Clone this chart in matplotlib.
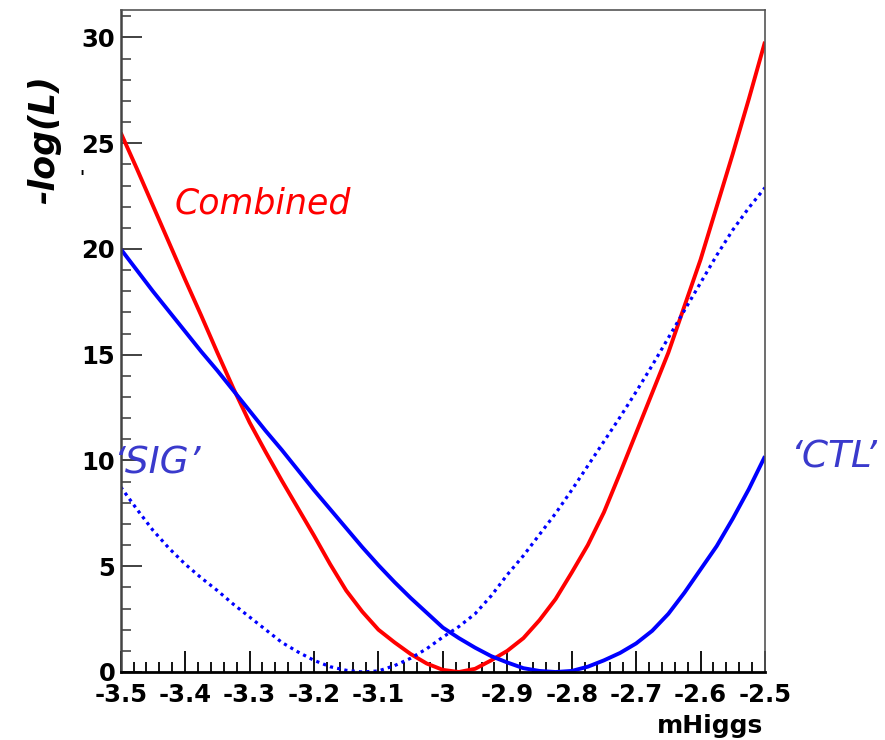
import matplotlib
matplotlib.use('Agg')
import matplotlib.pyplot as plt
from matplotlib.ticker import MultipleLocator

# mHiggs scan points
mhiggs = [-3.500, -3.475, -3.450, -3.425, -3.400, -3.375, -3.350, -3.325, -3.300, -3.275,
          -3.250, -3.225, -3.200, -3.175, -3.150, -3.125, -3.100, -3.075, -3.050, -3.025,
          -3.000, -2.975, -2.950, -2.925, -2.900, -2.875, -2.850, -2.825, -2.800, -2.775,
          -2.750, -2.725, -2.700, -2.675, -2.650, -2.625, -2.600, -2.575, -2.550, -2.525,
          -2.500]

# -log(L) curves
combined = [25.5, 23.8, 22.05, 20.3, 18.55, 16.85, 15.1, 13.4, 11.8, 10.4,
            9.05, 7.75, 6.45, 5.1, 3.85, 2.85, 2.0, 1.4, 0.85, 0.4,
            0.1, 0.0, 0.15, 0.55, 1.0, 1.6, 2.45, 3.45, 4.7, 6.0,
            7.55, 9.4, 11.3, 13.2, 15.1, 17.3, 19.5, 22.0, 24.5, 27.1,
            29.8]
ctl = [20.0, 19.0, 18.0, 17.05, 16.1, 15.15, 14.25, 13.3, 12.35, 11.4,
       10.5, 9.55, 8.6, 7.7, 6.8, 5.9, 5.05, 4.25, 3.5, 2.8,
       2.1, 1.6, 1.15, 0.75, 0.45, 0.18, 0.05, 0.0, 0.05, 0.25,
       0.55, 0.9, 1.35, 1.95, 2.75, 3.75, 4.85, 5.95, 7.25, 8.65,
       10.2]
sig = [8.75, 7.7, 6.7, 5.85, 5.1, 4.45, 3.85, 3.2, 2.6, 2.0,
       1.4, 0.95, 0.55, 0.25, 0.08, 0.0, 0.05, 0.3, 0.65, 1.1,
       1.65, 2.15, 2.75, 3.6, 4.6, 5.5, 6.5, 7.5, 8.6, 9.75,
       10.9, 12.05, 13.25, 14.5, 15.8, 17.1, 18.4, 19.7, 20.9, 21.95,
       22.9]

xticks = [-3.5, -3.4, -3.3, -3.2, -3.1, -3.0, -2.9, -2.8, -2.7, -2.6, -2.5]
xticklabels = ['-3.5', '-3.4', '-3.3', '-3.2', '-3.1', '-3', '-2.9', '-2.8',
               '-2.7', '-2.6', '-2.5']
yticks = [0, 5, 10, 15, 20, 25, 30]

fig = plt.figure(figsize=(8.85, 7.4), dpi=100)
ax = fig.add_axes([0.1364, 0.0919, 0.728, 0.8946])

ax.plot(mhiggs, combined, color='#ff0000', lw=2.8, solid_capstyle='butt')
ax.plot(mhiggs, ctl, color='#0000ff', lw=2.8, solid_capstyle='butt')
ax.plot(mhiggs, sig, color='#0000ff', lw=2.3, dashes=(1, 1.3), dash_capstyle='butt')

ax.set_xticks(xticks)
ax.set_xticklabels(xticklabels)
ax.set_yticks(yticks)
ax.xaxis.set_minor_locator(MultipleLocator(0.02))
ax.yaxis.set_minor_locator(MultipleLocator(1))
ax.set_xlim(-3.5, -2.5)
ax.set_ylim(0, 31.3)

ax.tick_params(axis='both', which='both', direction='in', top=False, right=False)
ax.tick_params(axis='x', which='major', length=15, width=1.3, color='black', pad=8)
ax.tick_params(axis='x', which='minor', length=7.5, width=1.3, color='black')
ax.tick_params(axis='y', which='major', length=15, width=1.3, color='#333333', pad=4)
ax.tick_params(axis='y', which='minor', length=7.5, width=1.3, color='#555555')

for lab in ax.get_xticklabels() + ax.get_yticklabels():
    lab.set_fontfamily('DejaVu Sans')
    lab.set_fontweight('bold')
    lab.set_fontsize(17.5)

ax.spines['bottom'].set_linewidth(2.0)
ax.spines['bottom'].set_color('black')
ax.spines['left'].set_linewidth(1.8)
ax.spines['left'].set_color('#444444')
ax.spines['top'].set_linewidth(1.2)
ax.spines['top'].set_color('#555555')
ax.spines['right'].set_linewidth(1.2)
ax.spines['right'].set_color('#555555')

fig.text(44 / 885, 1 - 140 / 740, '-log(L)', rotation=90, ha='center', va='center',
         fontsize=25, fontweight='bold', fontstyle='italic', family='DejaVu Sans')
fig.text(763 / 885, 1 - 726 / 740, 'mHiggs', ha='right', va='center',
         fontsize=18, fontweight='bold', family='DejaVu Sans')
fig.text(82 / 885, 1 - 178 / 740, "'", ha='center', va='center', fontsize=12,
         fontweight='bold')

fig.text(175 / 885, 1 - 203 / 740, 'Combined', ha='left', va='center', color='#ff0000',
         fontsize=25, fontstyle='italic', family='DejaVu Sans')
fig.text(113 / 885, 1 - 463 / 740, '\u2018SIG\u2019', ha='left', va='center', color='#3a3acc',
         fontsize=27, fontstyle='italic', family='DejaVu Sans')
fig.text(790 / 885, 1 - 457 / 740, '\u2018CTL\u2019', ha='left', va='center', color='#3a3acc',
         fontsize=27, fontstyle='italic', family='DejaVu Sans')

fig.savefig('out.png', dpi=100)
